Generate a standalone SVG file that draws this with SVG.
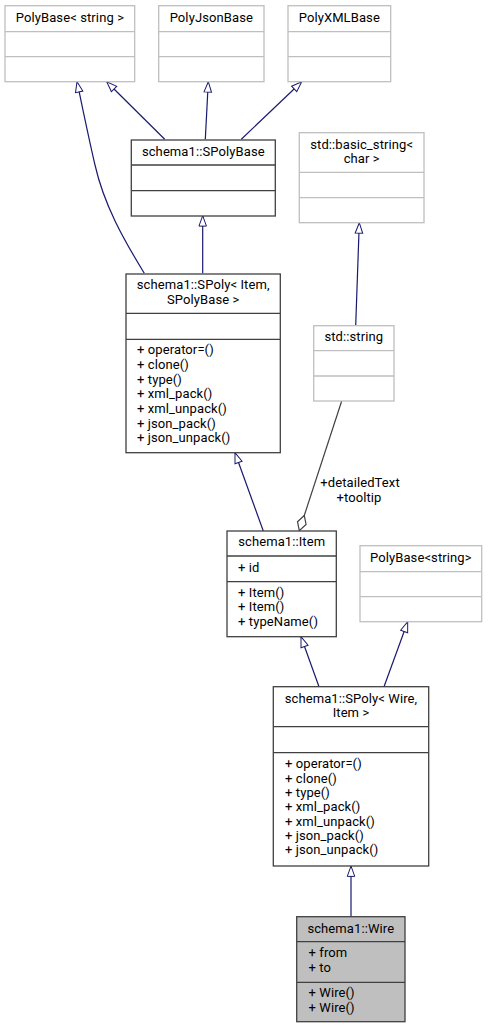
<svg xmlns="http://www.w3.org/2000/svg" width="489" height="1028" viewBox="0 0 489 1028">
<style>
text{font-family:Roboto,"Liberation Sans",Arial,sans-serif;font-size:13px;letter-spacing:0.1px;fill:#000}
.c{text-anchor:middle}
.gray rect,.gray line{stroke:#bfbfbf;stroke-width:1.3;fill:#fff}
.blk rect,.blk line{stroke:#404040;stroke-width:1.3;fill:#fff}
.sel rect{fill:#bfbfbf}
.e{fill:none;stroke:#191970;stroke-width:1.2}
.agg{fill:none;stroke:#404040;stroke-width:1.2}
</style>
<defs>
<marker id="tri" markerUnits="userSpaceOnUse" markerWidth="14" markerHeight="10" refX="12.5" refY="5" orient="auto" viewBox="-1 -1 15 12" overflow="visible">
<path d="M0,0.5 L12.5,5 L0,9.5 Z" fill="#fff" stroke="#191970" stroke-width="1.2"/>
</marker>
<marker id="dia" markerUnits="userSpaceOnUse" markerWidth="18" markerHeight="10" refX="16" refY="4.5" orient="auto" overflow="visible">
<path d="M0,4.5 L8,0 L16,4.5 L8,9 Z" fill="#fff" stroke="#404040" stroke-width="1.2"/>
</marker>
</defs>

<g id="connectors">
<path class="e" d="M164.7,139.3 L106.7,81.7" marker-end="url(#tri)"/>
<path class="e" d="M144.3,273.3 C124,240 104,205 95,165 C88,135 82,105 77,81.7" marker-end="url(#tri)"/>
<path class="e" d="M205.3,139.3 L208.3,81.7" marker-end="url(#tri)"/>
<path class="e" d="M241.3,139.3 L301.7,81.7" marker-end="url(#tri)"/>
<path class="e" d="M202.7,273.3 L202.7,215.7" marker-end="url(#tri)"/>
<path class="e" d="M355.7,325.7 L359.3,222.7" marker-end="url(#tri)"/>
<path class="e" d="M263.3,531 L235,452.7" marker-end="url(#tri)"/>
<path class="e" d="M319,686.7 L301,636.7" marker-end="url(#tri)"/>
<path class="e" d="M384,686.7 L407.7,621.7" marker-end="url(#tri)"/>
<path class="e" d="M351,916.7 L351,866" marker-end="url(#tri)"/>
<path class="agg" d="M341.7,401 L299.3,530.7" marker-end="url(#dia)"/>
<text class="c" x="360" y="487.3">+detailedText</text>
<text class="c" x="359" y="502.3">+tooltip</text>
</g>

<g id="PolyBase_string" class="gray">
<rect x="5" y="5.7" width="129.7" height="76"/>
<line x1="5" y1="31.7" x2="134.7" y2="31.7"/>
<line x1="5" y1="56.7" x2="134.7" y2="56.7"/>
<text class="c" x="69.9" y="21.9">PolyBase&lt; string &gt;</text>
</g>

<g id="PolyJsonBase" class="gray">
<rect x="158.7" y="5.7" width="105.3" height="76"/>
<line x1="158.7" y1="31.7" x2="264" y2="31.7"/>
<line x1="158.7" y1="56.7" x2="264" y2="56.7"/>
<text class="c" x="211.3" y="21.9">PolyJsonBase</text>
</g>

<g id="PolyXMLBase" class="gray">
<rect x="288" y="5.7" width="102.7" height="76"/>
<line x1="288" y1="31.7" x2="390.7" y2="31.7"/>
<line x1="288" y1="56.7" x2="390.7" y2="56.7"/>
<text class="c" x="339.3" y="21.9">PolyXMLBase</text>
</g>

<g id="SPolyBase" class="blk">
<rect x="131.3" y="140" width="144" height="76"/>
<line x1="131.3" y1="165" x2="275.3" y2="165"/>
<line x1="131.3" y1="190.7" x2="275.3" y2="190.7"/>
<text class="c" x="203.3" y="156.2">schema1::SPolyBase</text>
</g>

<g id="basic_string" class="gray">
<rect x="299.3" y="132.7" width="124.7" height="90"/>
<line x1="299.3" y1="172.3" x2="424" y2="172.3"/>
<line x1="299.3" y1="197.7" x2="424" y2="197.7"/>
<text class="c" x="361.7" y="149.3">std::basic_string&lt;</text>
<text class="c" x="361.7" y="163.3">char &gt;</text>
</g>

<g id="SPoly_Item" class="blk">
<rect x="126" y="274" width="154.3" height="178.7"/>
<line x1="126" y1="313.3" x2="280.3" y2="313.3"/>
<line x1="126" y1="339.3" x2="280.3" y2="339.3"/>
<text class="c" x="203.2" y="289.3">schema1::SPoly&lt; Item,</text>
<text class="c" x="203.2" y="304.3">SPolyBase &gt;</text>
<text x="137" y="354.3">+ operator=()</text>
<text x="137" y="369">+ clone()</text>
<text x="137" y="383.7">+ type()</text>
<text x="137" y="398.3">+ xml_pack()</text>
<text x="137" y="413">+ xml_unpack()</text>
<text x="137" y="427.7">+ json_pack()</text>
<text x="137" y="442.3">+ json_unpack()</text>
</g>

<g id="std_string" class="gray">
<rect x="313.7" y="325.7" width="80.3" height="75.3"/>
<line x1="313.7" y1="350.7" x2="394" y2="350.7"/>
<line x1="313.7" y1="376" x2="394" y2="376"/>
<text class="c" x="353.8" y="341.2">std::string</text>
</g>

<g id="Item" class="blk">
<rect x="227" y="531" width="109.3" height="105.7"/>
<line x1="227" y1="556" x2="336.3" y2="556"/>
<line x1="227" y1="581.7" x2="336.3" y2="581.7"/>
<text class="c" x="281.7" y="546.2">schema1::Item</text>
<text x="238" y="572">+ id</text>
<text x="238" y="596.7">+ Item()</text>
<text x="238" y="611.3">+ Item()</text>
<text x="238" y="626">+ typeName()</text>
</g>

<g id="PolyBase_string2" class="gray">
<rect x="360" y="545.7" width="121.7" height="76"/>
<line x1="360" y1="571.7" x2="481.7" y2="571.7"/>
<line x1="360" y1="596.7" x2="481.7" y2="596.7"/>
<text class="c" x="420.8" y="561.9">PolyBase&lt;string&gt;</text>
</g>

<g id="SPoly_Wire" class="blk">
<rect x="273.3" y="686.7" width="155.4" height="179.3"/>
<line x1="273.3" y1="726.7" x2="428.7" y2="726.7"/>
<line x1="273.3" y1="752.7" x2="428.7" y2="752.7"/>
<text class="c" x="351" y="702.7">schema1::SPoly&lt; Wire,</text>
<text class="c" x="351" y="716.9">Item &gt;</text>
<text x="285" y="768.3">+ operator=()</text>
<text x="285" y="782.7">+ clone()</text>
<text x="285" y="797">+ type()</text>
<text x="285" y="811.3">+ xml_pack()</text>
<text x="285" y="825.7">+ xml_unpack()</text>
<text x="285" y="840">+ json_pack()</text>
<text x="285" y="854.3">+ json_unpack()</text>
</g>

<g id="Wire" class="blk sel">
<rect x="296.7" y="916.7" width="108.3" height="105"/>
<line x1="296.7" y1="941.7" x2="405" y2="941.7"/>
<line x1="296.7" y1="982.3" x2="405" y2="982.3"/>
<text class="c" x="350.8" y="932.9">schema1::Wire</text>
<text x="308.5" y="957.3">+ from</text>
<text x="308.5" y="971.7">+ to</text>
<text x="308.5" y="996.7">+ Wire()</text>
<text x="308.5" y="1011.7">+ Wire()</text>
</g>
</svg>
